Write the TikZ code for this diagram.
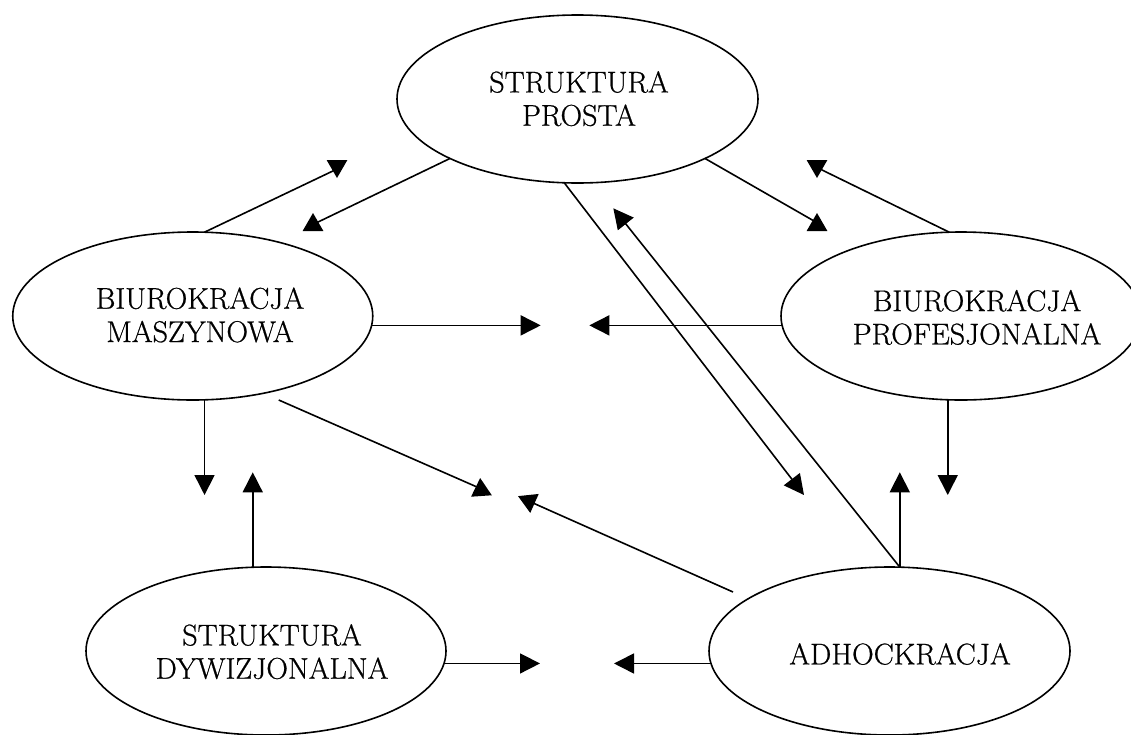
\documentclass[tikz,border=0pt]{standalone}
\usepackage{fontspec}
\newfontfamily\lblfont{Latin Modern Roman}[FakeBold=0.7]
\usetikzlibrary{shapes.geometric,arrows.meta,calc}
\begin{document}
\begin{tikzpicture}[x=1pt,y=-1pt,
  ell/.style={ellipse, draw, line width=1.6pt, minimum width=360pt, minimum height=168pt, inner sep=0pt, outer sep=0pt},
  lbl/.style={align=center, inner sep=0pt, anchor=north, font=\lblfont\fontsize{30pt}{33.3pt}\selectfont},
  arr/.style={line width=1.6pt, -{Triangle[length=20pt,width=20pt]}},
  ln/.style={line width=1.6pt},
  tri/.style={regular polygon, regular polygon sides=3, fill=black, draw=none, inner sep=0pt, minimum size=24pt}]
\useasboundingbox (0,0) rectangle (1131,734);

% ellipses
\node[ell, minimum width=361pt] (sp) at (577.5,99) {};
\node[ell] (mb) at (192.75,316) {};
\node[ell] (pb) at (961,316) {};
\node[ell] (sd) at (266,651) {};
\node[ell, minimum width=361pt] (ad) at (889.5,651) {};

% labels
\node[lbl] (tsp) at (579,71) {STRUKTURA\\PROSTA};
\node[lbl] (tmb) at (200,287.3) {BIUROKRACJA\\MASZYNOWA};
\node[lbl] (tpb) at (977,289.7) {BIUROKRACJA\\PROFESJONALNA};
\node[lbl] (tsd) at (272,624) {STRUKTURA\\DYWIZJONALNA};
\node[lbl] (tad) at (900,643) {ADHOCKRACJA};

% free ends
\coordinate (yTop) at (0,472.3);
\coordinate (yBot) at (0,495);
\coordinate (xR1) at (540.7,0);
\coordinate (xL1) at (589.3,0);
\coordinate (xR2) at (540,0);
\coordinate (xL2) at (614,0);
\coordinate (pA) at (336,169.5);
\coordinate (pB) at (316,223);
\coordinate (pC) at (814,221);
\coordinate (pD) at (820,169);
\coordinate (pE) at (477,487);
\coordinate (pF) at (533,503);
\coordinate (pG) at (804,495);
\coordinate (pH) at (613.3,208.3);
\coordinate (e1) at ($(mb.center)+(86,84)$);
\coordinate (f1) at ($(ad.center)+(-156.5,-59)$);

% straight arrows
\draw[arr] (mb.-3.75) -- (mb.-3.75 -| xR1);
\draw[arr] (pb.183.75) -- (pb.183.75 -| xL1);
\draw[arr] (sd.-4.2) -- (sd.-4.2 -| xR2);
\draw[arr] (ad.184.2) -- (ad.184.2 -| xL2);
\draw[arr] (mb.-82) -- (mb.-82 |- yBot);
\draw[arr] (sd.99) -- (sd.99 |- yTop);
\draw[arr] (ad.83) -- (ad.83 |- yTop);
\draw[arr] (pb.261.5) -- (pb.261.5 |- yBot);
\draw[arr] (sp.261.6) -- (pG);
\draw[arr] (ad.83) -- (pH);

% diagonal arrows with upright heads
\draw[ln] (mb.82) -- (pA);
\draw[ln] (sp.205) -- (pB);
\draw[ln] (sp.335.5) -- (pC);
\draw[ln] (pb.98.7) -- (pD);
\draw[ln] (e1) -- (pE);
\draw[ln] (f1) -- (pF);
\node[tri, rotate=180] (hA) at (337,166) {};
\node[tri] (hB) at (313,225) {};
\node[tri] (hC) at (817,225) {};
\node[tri, rotate=180] (hD) at (817,166) {};
\node[tri, rotate=4] (hE) at (481,490) {};
\node[tri, rotate=186] (hF) at (529,501) {};
\end{tikzpicture}
\end{document}
